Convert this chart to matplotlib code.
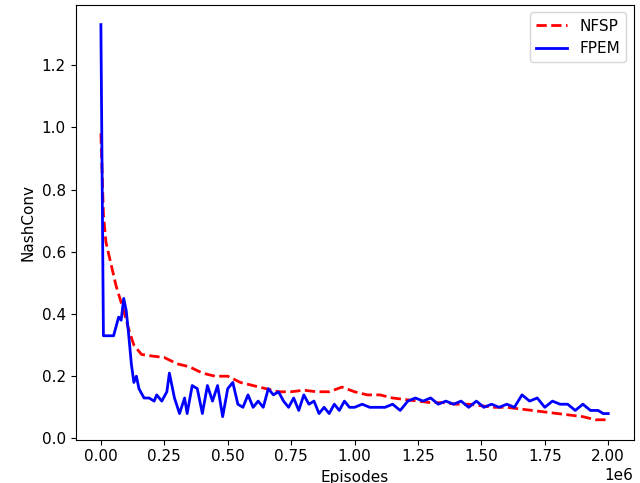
import matplotlib
matplotlib.use("Agg")
import matplotlib.pyplot as plt

nfsp_x = [0, 0.01, 0.02, 0.04, 0.06, 0.09, 0.11, 0.13, 0.16, 0.2, 0.25, 0.3, 0.35, 0.4, 0.45, 0.5, 0.55, 0.6, 0.65, 0.7, 0.75, 0.8, 0.85, 0.9, 0.95, 1.0, 1.05, 1.1, 1.15, 1.2, 1.25, 1.3, 1.35, 1.4, 1.45, 1.5, 1.55, 1.6, 1.65, 1.7, 1.75, 1.8, 1.85, 1.9, 1.95, 2.0]
nfsp_y = [0.98, 0.72, 0.63, 0.56, 0.49, 0.41, 0.35, 0.3, 0.27, 0.265, 0.26, 0.24, 0.23, 0.21, 0.2, 0.2, 0.18, 0.17, 0.16, 0.15, 0.15, 0.155, 0.15, 0.15, 0.165, 0.15, 0.14, 0.14, 0.13, 0.125, 0.12, 0.115, 0.115, 0.11, 0.11, 0.105, 0.1, 0.1, 0.095, 0.09, 0.085, 0.08, 0.075, 0.07, 0.06, 0.06]

fpem_x = [0, 0.01, 0.03, 0.05, 0.07, 0.08, 0.09, 0.1, 0.11, 0.12, 0.13, 0.14, 0.15, 0.17, 0.19, 0.21, 0.22, 0.24, 0.26, 0.27, 0.29, 0.31, 0.33, 0.34, 0.36, 0.38, 0.4, 0.42, 0.44, 0.46, 0.48, 0.5, 0.52, 0.54, 0.56, 0.58, 0.6, 0.62, 0.64, 0.66, 0.68, 0.7, 0.72, 0.74, 0.76, 0.78, 0.8, 0.82, 0.84, 0.86, 0.88, 0.9, 0.92, 0.94, 0.96, 0.98, 1.0, 1.03, 1.06, 1.09, 1.12, 1.15, 1.18, 1.21, 1.24, 1.27, 1.3, 1.33, 1.36, 1.39, 1.42, 1.45, 1.48, 1.51, 1.54, 1.57, 1.6, 1.63, 1.66, 1.69, 1.72, 1.75, 1.78, 1.81, 1.84, 1.87, 1.9, 1.93, 1.96, 1.98, 2.0]
fpem_y = [1.33, 0.33, 0.33, 0.33, 0.39, 0.38, 0.45, 0.41, 0.33, 0.24, 0.18, 0.2, 0.16, 0.13, 0.13, 0.12, 0.14, 0.12, 0.15, 0.21, 0.13, 0.08, 0.13, 0.08, 0.17, 0.16, 0.08, 0.17, 0.12, 0.17, 0.07, 0.16, 0.18, 0.11, 0.1, 0.14, 0.1, 0.12, 0.1, 0.16, 0.14, 0.15, 0.12, 0.1, 0.13, 0.09, 0.14, 0.11, 0.12, 0.08, 0.1, 0.08, 0.11, 0.09, 0.12, 0.1, 0.1, 0.11, 0.1, 0.1, 0.1, 0.11, 0.09, 0.12, 0.13, 0.12, 0.13, 0.11, 0.12, 0.11, 0.12, 0.1, 0.12, 0.1, 0.11, 0.1, 0.11, 0.1, 0.14, 0.12, 0.13, 0.1, 0.12, 0.11, 0.11, 0.09, 0.11, 0.09, 0.09, 0.08, 0.08]

plt.rcParams["font.size"] = 11
fig, ax = plt.subplots(figsize=(6.4, 4.83), dpi=100)
ax.plot([v * 1e6 for v in nfsp_x], nfsp_y, "r--", lw=2, label="NFSP")
ax.plot([v * 1e6 for v in fpem_x], fpem_y, "b-", lw=2, label="FPEM")
ax.set_xlabel("Episodes")
ax.set_ylabel("NashConv")
ax.legend(loc="upper right")
fig.subplots_adjust(left=0.118, right=0.99, top=0.99, bottom=0.09)
fig.savefig("out.png")
